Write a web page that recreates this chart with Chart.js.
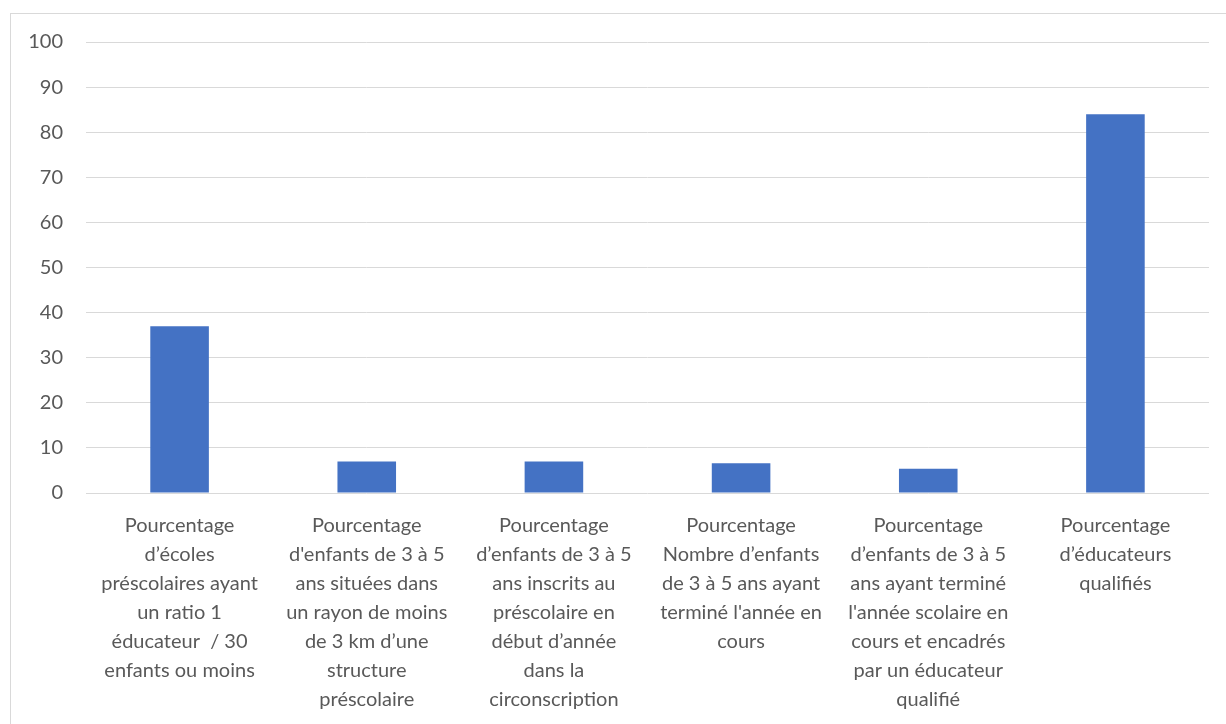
<!DOCTYPE html>
<html>
<head>
<meta charset="utf-8">
<script src="https://cdn.jsdelivr.net/npm/chart.js@4/dist/chart.umd.min.js"></script>
<style>
  html, body { margin: 0; padding: 0; background: #ffffff; overflow: hidden; }
  #frame { position: absolute; left: 10px; top: 13px; width: 1400px; height: 900px; border: 1px solid #d9d9d9; box-sizing: border-box; }
  #c { position: absolute; left: 0; top: 0; }
</style>
</head>
<body>
<div id="frame"></div>
<canvas id="c" width="1226" height="724"></canvas>
<script>
const categories = [
  ["Pourcentage", "d’écoles", "préscolaires ayant", "un ratio 1", "éducateur  / 30", "enfants ou moins"],
  ["Pourcentage", "d'enfants de 3 à 5", "ans situées dans", "un rayon de moins", "de 3 km d’une", "structure", "préscolaire"],
  ["Pourcentage", "d’enfants de 3 à 5", "ans inscrits au", "préscolaire en", "début d’année", "dans la", "circonscription"],
  ["Pourcentage", "Nombre d’enfants", "de 3 à 5 ans ayant", "terminé l'année en", "cours"],
  ["Pourcentage", "d’enfants de 3 à 5", "ans ayant terminé", "l'année scolaire en", "cours et encadrés", "par un éducateur", "qualifié"],
  ["Pourcentage", "d’éducateurs", "qualifiés"]
];
const values = [37, 7, 7, 6.6, 5.4, 84];
const yMin = 0;
const yMax = 100;
const yStep = 10;

const FONT = "Lato, 'Open Sans', sans-serif";

new Chart(document.getElementById('c'), {
  type: 'bar',
  data: {
    labels: categories,
    datasets: [{
      data: values,
      backgroundColor: '#4472C4',
      borderWidth: 0,
      barPercentage: 0.313,
      categoryPercentage: 1.0
    }]
  },
  options: {
    responsive: false,
    animation: false,
    devicePixelRatio: 1,
    layout: { padding: { top: 42, right: 17, bottom: 0, left: 0 } },
    plugins: { legend: { display: false }, tooltip: { enabled: false } },
    scales: {
      x: {
        grid: { display: false, drawTicks: false },
        border: { display: false },
        ticks: {
          color: '#595959',
          font: { family: FONT, size: 20, lineHeight: '29px' },
          padding: 18,
          maxRotation: 0,
          autoSkip: false
        },
        afterFit: (s) => { s.height = 724 - 493; }
      },
      y: {
        min: yMin,
        max: yMax,
        ticks: {
          stepSize: yStep,
          color: '#595959',
          font: { family: FONT, size: 20 },
          padding: 23
        },
        grid: { color: '#d9d9d9', lineWidth: 1, drawTicks: false },
        border: { display: false },
        afterFit: (s) => { s.width = 86; }
      }
    }
  }
});
</script>
</body>
</html>
